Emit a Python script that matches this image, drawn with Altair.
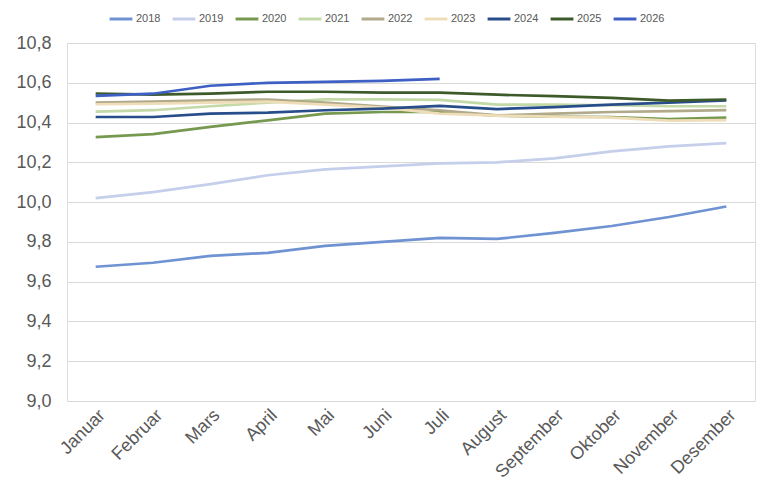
import altair as alt
import pandas as pd

months = ["Januar", "Februar", "Mars", "April", "Mai", "Juni", "Juli",
          "August", "September", "Oktober", "November", "Desember"]
years = ["2018", "2019", "2020", "2021", "2022", "2023", "2024", "2025", "2026"]
colors = ["#6F93D2", "#C5CFEC", "#76994F", "#C3D9A8", "#B0A98A",
          "#EEDDB8", "#274E8A", "#3D5A2A", "#3E5FC3"]

v2018 = [9.675, 9.695, 9.73, 9.745, 9.78, 9.80, 9.82, 9.815, 9.845, 9.88, 9.925, 9.978]
v2019 = [10.02, 10.05, 10.09, 10.135, 10.165, 10.18, 10.195, 10.20, 10.22, 10.255, 10.28, 10.297]
v2020 = [10.327, 10.342, 10.378, 10.411, 10.445, 10.453, 10.453, 10.435, 10.43, 10.428, 10.418, 10.425]
v2021 = [10.455, 10.462, 10.482, 10.50, 10.517, 10.517, 10.514, 10.49, 10.49, 10.487, 10.482, 10.482]
v2022 = [10.50, 10.505, 10.512, 10.516, 10.50, 10.48, 10.462, 10.436, 10.445, 10.453, 10.457, 10.462]
v2023 = [10.492, 10.495, 10.50, 10.505, 10.49, 10.475, 10.445, 10.435, 10.43, 10.425, 10.41, 10.412]
v2024 = [10.428, 10.428, 10.445, 10.45, 10.462, 10.47, 10.484, 10.468, 10.478, 10.49, 10.50, 10.512]
v2025 = [10.546, 10.54, 10.545, 10.555, 10.555, 10.55, 10.55, 10.54, 10.533, 10.524, 10.51, 10.516]
v2026 = [10.534, 10.545, 10.585, 10.60, 10.605, 10.61, 10.62]

series = [v2018, v2019, v2020, v2021, v2022, v2023, v2024, v2025, v2026]

rows = []
for y, vals in zip(years, series):
    for m, v in zip(months, vals):
        rows.append({"Måned": m, "År": y, "Verdi": v})
df = pd.DataFrame(rows)

chart = alt.Chart(df).mark_line(strokeWidth=2.7).encode(
    x=alt.X("Måned:N", sort=months,
            scale=alt.Scale(type="point", padding=0.5),
            axis=alt.Axis(title=None, labelAngle=-45, labelAlign="right",
                          labelBaseline="top", labelFontSize=18, labelColor="#595959",
                          labelFont="Liberation Sans", domain=False, ticks=False,
                          labelPadding=5, grid=False)),
    y=alt.Y("Verdi:Q", scale=alt.Scale(domain=[9.0, 10.8], nice=False, zero=False),
            axis=alt.Axis(title=None, values=[9.0, 9.2, 9.4, 9.6, 9.8, 10.0, 10.2, 10.4, 10.6, 10.8],
                          labelExpr="replace(format(datum.value, '.1f'), '.', ',')",
                          labelFontSize=18, labelColor="#595959", labelFont="Liberation Sans",
                          domain=False, ticks=False, labelPadding=16,
                          gridColor="#D9D9D9", gridWidth=1)),
    color=alt.Color("År:N", scale=alt.Scale(domain=years, range=colors),
                    legend=alt.Legend(title=None, orient="none", direction="horizontal",
                                      legendX=41, legendY=-37, columns=9,
                                      symbolType="stroke", symbolStrokeWidth=3,
                                      symbolSize=520, labelFontSize=11,
                                      labelColor="#595959", labelFont="Liberation Sans",
                                      labelOffset=2, columnPadding=5)),
    order=alt.Order("År:N"),
).properties(
    width=688, height=358,
    padding={"left": 59, "top": 35, "right": 5, "bottom": 90},
    autosize=alt.AutoSizeParams(type="none"),
).configure_view(stroke=None).configure(background="white")

chart.save("out.html", embed_options={"renderer": "svg", "actions": False})
